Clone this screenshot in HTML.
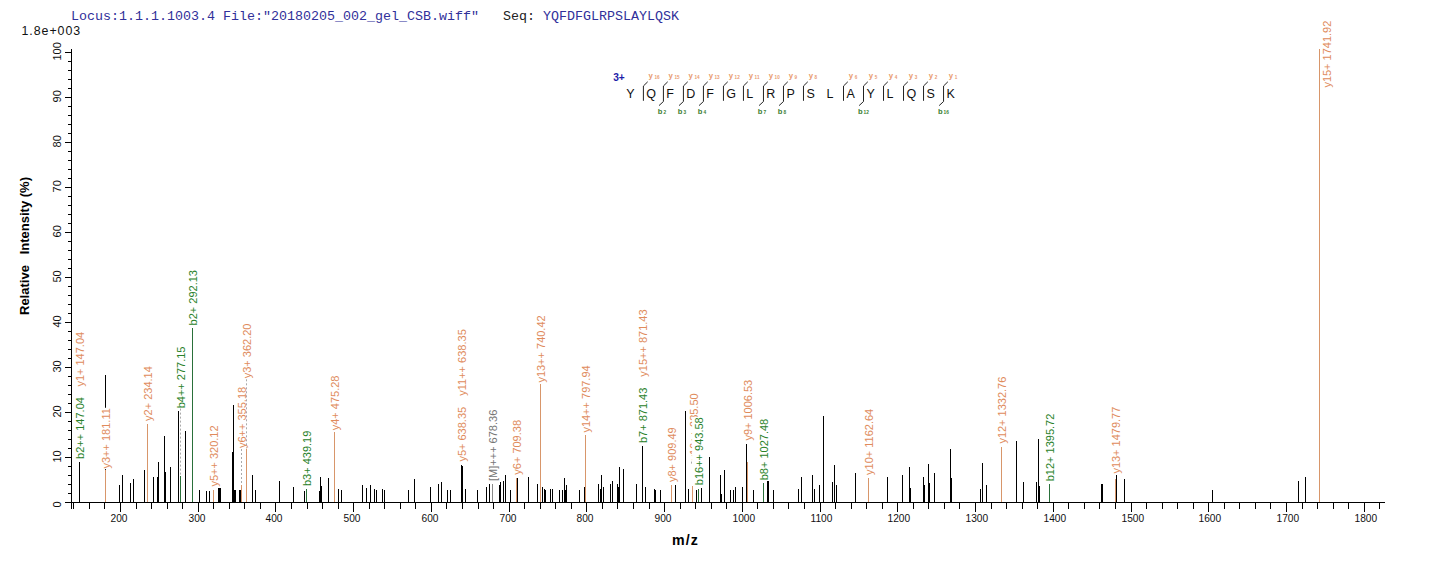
<!DOCTYPE html><html><head><meta charset="utf-8"><style>
html,body{margin:0;padding:0;background:#fff;overflow:hidden;}
svg{display:block;}
text{font-family:"Liberation Sans",sans-serif;}
.mono{font-family:"Liberation Mono",monospace;}
</style></head><body>
<svg width="1436" height="562" viewBox="0 0 1436 562">
<rect x="0" y="0" width="1436" height="562" fill="#fff"/>
<text class="mono" x="71" y="19.7" font-size="13.33" fill="#30309a" xml:space="preserve">Locus:1.1.1.1003.4 File:&quot;20180205_002_gel_CSB.wiff&quot;   <tspan fill="#222">Seq:</tspan> YQFDFGLRPSLAYLQSK</text>
<text x="21.5" y="34.9" font-size="12.4" letter-spacing="0.95" fill="#111">1.8e+003</text>
<g shape-rendering="crispEdges" fill="#000">
<rect x="71" y="49" width="1" height="454"/>
<rect x="65" y="502" width="1320" height="1"/>
<rect x="65" y="502" width="6" height="1"/>
<rect x="68" y="493" width="3" height="1"/>
<rect x="68" y="484" width="3" height="1"/>
<rect x="68" y="475" width="3" height="1"/>
<rect x="68" y="466" width="3" height="1"/>
<rect x="65" y="457" width="6" height="1"/>
<rect x="68" y="448" width="3" height="1"/>
<rect x="68" y="439" width="3" height="1"/>
<rect x="68" y="430" width="3" height="1"/>
<rect x="68" y="421" width="3" height="1"/>
<rect x="65" y="412" width="6" height="1"/>
<rect x="68" y="403" width="3" height="1"/>
<rect x="68" y="394" width="3" height="1"/>
<rect x="68" y="385" width="3" height="1"/>
<rect x="68" y="376" width="3" height="1"/>
<rect x="65" y="367" width="6" height="1"/>
<rect x="68" y="358" width="3" height="1"/>
<rect x="68" y="349" width="3" height="1"/>
<rect x="68" y="340" width="3" height="1"/>
<rect x="68" y="331" width="3" height="1"/>
<rect x="65" y="322" width="6" height="1"/>
<rect x="68" y="313" width="3" height="1"/>
<rect x="68" y="304" width="3" height="1"/>
<rect x="68" y="295" width="3" height="1"/>
<rect x="68" y="286" width="3" height="1"/>
<rect x="65" y="277" width="6" height="1"/>
<rect x="68" y="268" width="3" height="1"/>
<rect x="68" y="259" width="3" height="1"/>
<rect x="68" y="250" width="3" height="1"/>
<rect x="68" y="241" width="3" height="1"/>
<rect x="65" y="232" width="6" height="1"/>
<rect x="68" y="223" width="3" height="1"/>
<rect x="68" y="214" width="3" height="1"/>
<rect x="68" y="205" width="3" height="1"/>
<rect x="68" y="196" width="3" height="1"/>
<rect x="65" y="187" width="6" height="1"/>
<rect x="68" y="178" width="3" height="1"/>
<rect x="68" y="169" width="3" height="1"/>
<rect x="68" y="160" width="3" height="1"/>
<rect x="68" y="151" width="3" height="1"/>
<rect x="65" y="142" width="6" height="1"/>
<rect x="68" y="133" width="3" height="1"/>
<rect x="68" y="124" width="3" height="1"/>
<rect x="68" y="115" width="3" height="1"/>
<rect x="68" y="106" width="3" height="1"/>
<rect x="65" y="97" width="6" height="1"/>
<rect x="68" y="88" width="3" height="1"/>
<rect x="68" y="79" width="3" height="1"/>
<rect x="68" y="70" width="3" height="1"/>
<rect x="68" y="61" width="3" height="1"/>
<rect x="65" y="52" width="6" height="1"/>
<rect x="71" y="503" width="1" height="6"/>
<rect x="73" y="503" width="1" height="6"/>
<rect x="89" y="503" width="1" height="6"/>
<rect x="104" y="503" width="1" height="6"/>
<rect x="120" y="503" width="1" height="9"/>
<rect x="136" y="503" width="1" height="6"/>
<rect x="151" y="503" width="1" height="6"/>
<rect x="167" y="503" width="1" height="6"/>
<rect x="182" y="503" width="1" height="6"/>
<rect x="198" y="503" width="1" height="9"/>
<rect x="213" y="503" width="1" height="6"/>
<rect x="229" y="503" width="1" height="6"/>
<rect x="244" y="503" width="1" height="6"/>
<rect x="260" y="503" width="1" height="6"/>
<rect x="275" y="503" width="1" height="9"/>
<rect x="291" y="503" width="1" height="6"/>
<rect x="307" y="503" width="1" height="6"/>
<rect x="322" y="503" width="1" height="6"/>
<rect x="338" y="503" width="1" height="6"/>
<rect x="353" y="503" width="1" height="9"/>
<rect x="369" y="503" width="1" height="6"/>
<rect x="384" y="503" width="1" height="6"/>
<rect x="400" y="503" width="1" height="6"/>
<rect x="415" y="503" width="1" height="6"/>
<rect x="431" y="503" width="1" height="9"/>
<rect x="446" y="503" width="1" height="6"/>
<rect x="462" y="503" width="1" height="6"/>
<rect x="478" y="503" width="1" height="6"/>
<rect x="493" y="503" width="1" height="6"/>
<rect x="509" y="503" width="1" height="9"/>
<rect x="524" y="503" width="1" height="6"/>
<rect x="540" y="503" width="1" height="6"/>
<rect x="555" y="503" width="1" height="6"/>
<rect x="571" y="503" width="1" height="6"/>
<rect x="586" y="503" width="1" height="9"/>
<rect x="602" y="503" width="1" height="6"/>
<rect x="617" y="503" width="1" height="6"/>
<rect x="633" y="503" width="1" height="6"/>
<rect x="649" y="503" width="1" height="6"/>
<rect x="664" y="503" width="1" height="9"/>
<rect x="680" y="503" width="1" height="6"/>
<rect x="695" y="503" width="1" height="6"/>
<rect x="711" y="503" width="1" height="6"/>
<rect x="726" y="503" width="1" height="6"/>
<rect x="742" y="503" width="1" height="9"/>
<rect x="757" y="503" width="1" height="6"/>
<rect x="773" y="503" width="1" height="6"/>
<rect x="788" y="503" width="1" height="6"/>
<rect x="804" y="503" width="1" height="6"/>
<rect x="820" y="503" width="1" height="9"/>
<rect x="835" y="503" width="1" height="6"/>
<rect x="851" y="503" width="1" height="6"/>
<rect x="866" y="503" width="1" height="6"/>
<rect x="882" y="503" width="1" height="6"/>
<rect x="897" y="503" width="1" height="9"/>
<rect x="913" y="503" width="1" height="6"/>
<rect x="928" y="503" width="1" height="6"/>
<rect x="944" y="503" width="1" height="6"/>
<rect x="959" y="503" width="1" height="6"/>
<rect x="975" y="503" width="1" height="9"/>
<rect x="991" y="503" width="1" height="6"/>
<rect x="1006" y="503" width="1" height="6"/>
<rect x="1022" y="503" width="1" height="6"/>
<rect x="1037" y="503" width="1" height="6"/>
<rect x="1053" y="503" width="1" height="9"/>
<rect x="1068" y="503" width="1" height="6"/>
<rect x="1084" y="503" width="1" height="6"/>
<rect x="1099" y="503" width="1" height="6"/>
<rect x="1115" y="503" width="1" height="6"/>
<rect x="1131" y="503" width="1" height="9"/>
<rect x="1146" y="503" width="1" height="6"/>
<rect x="1162" y="503" width="1" height="6"/>
<rect x="1177" y="503" width="1" height="6"/>
<rect x="1193" y="503" width="1" height="6"/>
<rect x="1208" y="503" width="1" height="9"/>
<rect x="1224" y="503" width="1" height="6"/>
<rect x="1239" y="503" width="1" height="6"/>
<rect x="1255" y="503" width="1" height="6"/>
<rect x="1270" y="503" width="1" height="6"/>
<rect x="1286" y="503" width="1" height="9"/>
<rect x="1302" y="503" width="1" height="6"/>
<rect x="1317" y="503" width="1" height="6"/>
<rect x="1333" y="503" width="1" height="6"/>
<rect x="1348" y="503" width="1" height="6"/>
<rect x="1364" y="503" width="1" height="9"/>
<rect x="1379" y="503" width="1" height="6"/>
</g>
<g font-size="11" fill="#111">
<text transform="translate(61,504.4) rotate(-90)" text-anchor="middle">0</text>
<text transform="translate(61,456.4) rotate(-90)" text-anchor="middle">10</text>
<text transform="translate(61,411.4) rotate(-90)" text-anchor="middle">20</text>
<text transform="translate(61,366.4) rotate(-90)" text-anchor="middle">30</text>
<text transform="translate(61,321.4) rotate(-90)" text-anchor="middle">40</text>
<text transform="translate(61,276.4) rotate(-90)" text-anchor="middle">50</text>
<text transform="translate(61,231.3) rotate(-90)" text-anchor="middle">60</text>
<text transform="translate(61,186.3) rotate(-90)" text-anchor="middle">70</text>
<text transform="translate(61,141.3) rotate(-90)" text-anchor="middle">80</text>
<text transform="translate(61,96.3) rotate(-90)" text-anchor="middle">90</text>
<text transform="translate(61,51.4) rotate(-90)" text-anchor="middle">100</text>
<text x="110.5" y="521.8" font-size="10.2">200</text>
<text x="188.5" y="521.8" font-size="10.2">300</text>
<text x="265.5" y="521.8" font-size="10.2">400</text>
<text x="343.5" y="521.8" font-size="10.2">500</text>
<text x="421.5" y="521.8" font-size="10.2">600</text>
<text x="499.5" y="521.8" font-size="10.2">700</text>
<text x="576.5" y="521.8" font-size="10.2">800</text>
<text x="654.5" y="521.8" font-size="10.2">900</text>
<text x="732.5" y="521.8" font-size="10.2">1000</text>
<text x="810.5" y="521.8" font-size="10.2">1100</text>
<text x="887.5" y="521.8" font-size="10.2">1200</text>
<text x="965.5" y="521.8" font-size="10.2">1300</text>
<text x="1043.5" y="521.8" font-size="10.2">1400</text>
<text x="1121.5" y="521.8" font-size="10.2">1500</text>
<text x="1198.5" y="521.8" font-size="10.2">1600</text>
<text x="1276.5" y="521.8" font-size="10.2">1700</text>
<text x="1354.5" y="521.8" font-size="10.2">1800</text>
</g>
<text transform="translate(28.8,315) rotate(-90)" font-size="13" font-weight="bold" fill="#000" xml:space="preserve">Relative   Intensity (%)</text>
<text x="672" y="544.8" font-size="14.2" letter-spacing="1.1" font-weight="bold" fill="#000">m/z</text>
<g shape-rendering="crispEdges">
<rect x="79" y="462" width="1" height="40" fill="#000"/>
<rect x="105" y="375" width="1" height="127" fill="#000"/>
<rect x="119" y="485" width="1" height="17" fill="#000"/>
<rect x="122" y="475" width="1" height="27" fill="#000"/>
<rect x="130" y="483" width="1" height="19" fill="#000"/>
<rect x="133" y="479" width="1" height="23" fill="#000"/>
<rect x="144" y="470" width="1" height="32" fill="#000"/>
<rect x="153" y="477" width="1" height="25" fill="#000"/>
<rect x="157" y="477" width="1" height="25" fill="#000"/>
<rect x="158" y="462" width="1" height="40" fill="#000"/>
<rect x="164" y="436" width="1" height="66" fill="#000"/>
<rect x="165" y="472" width="1" height="30" fill="#000"/>
<rect x="170" y="467" width="1" height="35" fill="#000"/>
<rect x="178" y="411" width="1" height="91" fill="#000"/>
<rect x="185" y="431" width="1" height="71" fill="#000"/>
<rect x="199" y="490" width="1" height="12" fill="#000"/>
<rect x="206" y="491" width="1" height="11" fill="#000"/>
<rect x="209" y="491" width="1" height="11" fill="#000"/>
<rect x="218" y="488" width="1" height="14" fill="#000"/>
<rect x="219" y="488" width="1" height="14" fill="#000"/>
<rect x="220" y="488" width="1" height="14" fill="#000"/>
<rect x="232" y="452" width="1" height="50" fill="#000"/>
<rect x="233" y="405" width="1" height="97" fill="#000"/>
<rect x="234" y="490" width="1" height="12" fill="#000"/>
<rect x="235" y="490" width="1" height="12" fill="#000"/>
<rect x="239" y="490" width="1" height="12" fill="#000"/>
<rect x="240" y="490" width="1" height="12" fill="#000"/>
<rect x="252" y="475" width="1" height="27" fill="#000"/>
<rect x="255" y="490" width="1" height="12" fill="#000"/>
<rect x="279" y="481" width="1" height="21" fill="#000"/>
<rect x="293" y="487" width="1" height="15" fill="#000"/>
<rect x="304" y="491" width="1" height="11" fill="#000"/>
<rect x="319" y="491" width="1" height="11" fill="#000"/>
<rect x="320" y="477" width="1" height="25" fill="#000"/>
<rect x="321" y="486" width="1" height="16" fill="#000"/>
<rect x="328" y="478" width="1" height="24" fill="#000"/>
<rect x="338" y="489" width="1" height="13" fill="#000"/>
<rect x="341" y="490" width="1" height="12" fill="#000"/>
<rect x="362" y="485" width="1" height="17" fill="#000"/>
<rect x="366" y="488" width="1" height="14" fill="#000"/>
<rect x="370" y="485" width="1" height="17" fill="#000"/>
<rect x="374" y="489" width="1" height="13" fill="#000"/>
<rect x="376" y="490" width="1" height="12" fill="#000"/>
<rect x="382" y="489" width="1" height="13" fill="#000"/>
<rect x="384" y="490" width="1" height="12" fill="#000"/>
<rect x="408" y="490" width="1" height="12" fill="#000"/>
<rect x="414" y="479" width="1" height="23" fill="#000"/>
<rect x="430" y="487" width="1" height="15" fill="#000"/>
<rect x="438" y="484" width="1" height="18" fill="#000"/>
<rect x="441" y="482" width="1" height="20" fill="#000"/>
<rect x="447" y="490" width="1" height="12" fill="#000"/>
<rect x="450" y="490" width="1" height="12" fill="#000"/>
<rect x="461" y="465" width="1" height="37" fill="#000"/>
<rect x="462" y="466" width="1" height="36" fill="#000"/>
<rect x="465" y="489" width="1" height="13" fill="#000"/>
<rect x="477" y="490" width="1" height="12" fill="#000"/>
<rect x="486" y="487" width="1" height="15" fill="#000"/>
<rect x="489" y="484" width="1" height="18" fill="#000"/>
<rect x="499" y="485" width="1" height="17" fill="#000"/>
<rect x="500" y="482" width="1" height="20" fill="#000"/>
<rect x="503" y="481" width="1" height="21" fill="#000"/>
<rect x="505" y="475" width="1" height="27" fill="#000"/>
<rect x="510" y="490" width="1" height="12" fill="#000"/>
<rect x="517" y="478" width="1" height="24" fill="#000"/>
<rect x="528" y="477" width="1" height="25" fill="#000"/>
<rect x="537" y="484" width="1" height="18" fill="#000"/>
<rect x="542" y="487" width="1" height="15" fill="#000"/>
<rect x="544" y="489" width="1" height="13" fill="#000"/>
<rect x="545" y="490" width="1" height="12" fill="#000"/>
<rect x="550" y="489" width="1" height="13" fill="#000"/>
<rect x="552" y="489" width="1" height="13" fill="#000"/>
<rect x="559" y="490" width="1" height="12" fill="#000"/>
<rect x="562" y="490" width="1" height="12" fill="#000"/>
<rect x="564" y="478" width="1" height="24" fill="#000"/>
<rect x="565" y="490" width="1" height="12" fill="#000"/>
<rect x="566" y="485" width="1" height="17" fill="#000"/>
<rect x="579" y="490" width="1" height="12" fill="#000"/>
<rect x="584" y="487" width="1" height="15" fill="#000"/>
<rect x="598" y="484" width="1" height="18" fill="#000"/>
<rect x="600" y="489" width="1" height="13" fill="#000"/>
<rect x="601" y="475" width="1" height="27" fill="#000"/>
<rect x="603" y="487" width="1" height="15" fill="#000"/>
<rect x="610" y="484" width="1" height="18" fill="#000"/>
<rect x="612" y="481" width="1" height="21" fill="#000"/>
<rect x="617" y="484" width="1" height="18" fill="#000"/>
<rect x="618" y="487" width="1" height="15" fill="#000"/>
<rect x="619" y="467" width="1" height="35" fill="#000"/>
<rect x="623" y="469" width="1" height="33" fill="#000"/>
<rect x="636" y="484" width="1" height="18" fill="#000"/>
<rect x="642" y="446" width="1" height="56" fill="#000"/>
<rect x="645" y="487" width="1" height="15" fill="#000"/>
<rect x="654" y="489" width="1" height="13" fill="#000"/>
<rect x="655" y="490" width="1" height="12" fill="#000"/>
<rect x="660" y="490" width="1" height="12" fill="#000"/>
<rect x="675" y="485" width="1" height="17" fill="#000"/>
<rect x="685" y="411" width="1" height="91" fill="#000"/>
<rect x="688" y="489" width="1" height="13" fill="#000"/>
<rect x="696" y="490" width="1" height="12" fill="#000"/>
<rect x="701" y="488" width="1" height="14" fill="#000"/>
<rect x="709" y="457" width="1" height="45" fill="#000"/>
<rect x="720" y="475" width="1" height="27" fill="#000"/>
<rect x="721" y="494" width="1" height="8" fill="#000"/>
<rect x="724" y="470" width="1" height="32" fill="#000"/>
<rect x="730" y="490" width="1" height="12" fill="#000"/>
<rect x="733" y="490" width="1" height="12" fill="#000"/>
<rect x="735" y="487" width="1" height="15" fill="#000"/>
<rect x="742" y="487" width="1" height="15" fill="#000"/>
<rect x="746" y="444" width="1" height="58" fill="#000"/>
<rect x="753" y="490" width="1" height="12" fill="#000"/>
<rect x="767" y="481" width="1" height="21" fill="#000"/>
<rect x="768" y="481" width="1" height="21" fill="#000"/>
<rect x="773" y="490" width="1" height="12" fill="#000"/>
<rect x="798" y="489" width="1" height="13" fill="#000"/>
<rect x="801" y="477" width="1" height="25" fill="#000"/>
<rect x="812" y="475" width="1" height="27" fill="#000"/>
<rect x="814" y="489" width="1" height="13" fill="#000"/>
<rect x="819" y="485" width="1" height="17" fill="#000"/>
<rect x="823" y="416" width="1" height="86" fill="#000"/>
<rect x="832" y="482" width="1" height="20" fill="#000"/>
<rect x="834" y="465" width="1" height="37" fill="#000"/>
<rect x="836" y="485" width="1" height="17" fill="#000"/>
<rect x="855" y="473" width="1" height="29" fill="#000"/>
<rect x="887" y="477" width="1" height="25" fill="#000"/>
<rect x="902" y="475" width="1" height="27" fill="#000"/>
<rect x="909" y="467" width="1" height="35" fill="#000"/>
<rect x="910" y="488" width="1" height="14" fill="#000"/>
<rect x="923" y="477" width="1" height="25" fill="#000"/>
<rect x="924" y="485" width="1" height="17" fill="#000"/>
<rect x="928" y="464" width="1" height="38" fill="#000"/>
<rect x="929" y="483" width="1" height="19" fill="#000"/>
<rect x="934" y="473" width="1" height="29" fill="#000"/>
<rect x="950" y="449" width="1" height="53" fill="#000"/>
<rect x="951" y="478" width="1" height="24" fill="#000"/>
<rect x="980" y="489" width="1" height="13" fill="#000"/>
<rect x="982" y="463" width="1" height="39" fill="#000"/>
<rect x="986" y="485" width="1" height="17" fill="#000"/>
<rect x="1016" y="441" width="1" height="61" fill="#000"/>
<rect x="1023" y="482" width="1" height="20" fill="#000"/>
<rect x="1036" y="482" width="1" height="20" fill="#000"/>
<rect x="1038" y="439" width="1" height="63" fill="#000"/>
<rect x="1039" y="486" width="1" height="16" fill="#000"/>
<rect x="1101" y="484" width="1" height="18" fill="#000"/>
<rect x="1102" y="484" width="1" height="18" fill="#000"/>
<rect x="1116" y="475" width="1" height="27" fill="#000"/>
<rect x="1124" y="479" width="1" height="23" fill="#000"/>
<rect x="1212" y="490" width="1" height="12" fill="#000"/>
<rect x="1298" y="481" width="1" height="21" fill="#000"/>
<rect x="1305" y="477" width="1" height="25" fill="#000"/>
<rect x="105" y="470" width="1" height="32" fill="#d8966a"/>
<rect x="147" y="424" width="1" height="78" fill="#d8966a"/>
<rect x="180" y="476" width="1" height="26" fill="#2a703a"/>
<rect x="192" y="328" width="1" height="174" fill="#2a703a"/>
<rect x="213" y="490" width="1" height="12" fill="#d8966a"/>
<rect x="241" y="485" width="1" height="17" fill="#d8966a"/>
<rect x="246" y="448" width="1" height="54" fill="#d8966a"/>
<rect x="306" y="489" width="1" height="13" fill="#2a703a"/>
<rect x="334" y="432" width="1" height="70" fill="#d8966a"/>
<rect x="492" y="484" width="1" height="18" fill="#8a8a8a"/>
<rect x="516" y="478" width="1" height="24" fill="#d8966a"/>
<rect x="540" y="384" width="1" height="118" fill="#d8966a"/>
<rect x="585" y="435" width="1" height="67" fill="#d8966a"/>
<rect x="671" y="485" width="1" height="17" fill="#d8966a"/>
<rect x="692" y="486" width="1" height="16" fill="#d8966a"/>
<rect x="698" y="489" width="1" height="13" fill="#2a703a"/>
<rect x="747" y="462" width="1" height="40" fill="#d8966a"/>
<rect x="763" y="483" width="1" height="19" fill="#2a703a"/>
<rect x="868" y="478" width="1" height="24" fill="#d8966a"/>
<rect x="1001" y="447" width="1" height="55" fill="#d8966a"/>
<rect x="1049" y="484" width="1" height="18" fill="#2a703a"/>
<rect x="1115" y="479" width="1" height="23" fill="#d8966a"/>
<rect x="1319" y="49" width="1" height="453" fill="#d8966a"/>
</g>
<g font-size="11">
<g transform="translate(84.0,458.90) rotate(-90) scale(1.0000,1)"><rect x="-0.6" y="-11" width="62.78" height="13.5" fill="#fff"/><text x="0" y="0" fill="#2a822a">b2++ 147.04</text></g>
<g transform="translate(84.0,386.62) rotate(-90) scale(1.0000,1)"><rect x="-0.6" y="-11" width="55.74" height="13.5" fill="#fff"/><text x="0" y="0" fill="#e08b5c">y1+ 147.04</text></g>
<g transform="translate(109.8,468.52) rotate(-90) scale(1.0000,1)"><rect x="-0.6" y="-11" width="61.35" height="13.5" fill="#fff"/><text x="0" y="0" fill="#e08b5c">y3++ 181.11</text></g>
<g transform="translate(151.8,420.92) rotate(-90) scale(1.0000,1)"><rect x="-0.6" y="-11" width="55.74" height="13.5" fill="#fff"/><text x="0" y="0" fill="#e08b5c">y2+ 234.14</text></g>
<g transform="translate(185.1,408.30) rotate(-90) scale(1.0000,1)"><rect x="-0.6" y="-11" width="62.78" height="13.5" fill="#fff"/><text x="0" y="0" fill="#2a822a">b4++ 277.15</text></g>
<line x1="180.5" y1="408.6" x2="180.5" y2="476" stroke="#aaa" stroke-width="1" stroke-dasharray="2,2"/>
<g transform="translate(197.1,325.40) rotate(-90) scale(1.0000,1)"><rect x="-0.6" y="-11" width="56.36" height="13.5" fill="#fff"/><text x="0" y="0" fill="#2a822a">b2+ 292.13</text></g>
<g transform="translate(218.1,486.62) rotate(-90) scale(1.0000,1)"><rect x="-0.6" y="-11" width="62.17" height="13.5" fill="#fff"/><text x="0" y="0" fill="#e08b5c">y5++ 320.12</text></g>
<g transform="translate(246.2,448.02) rotate(-90) scale(1.0000,1)"><rect x="-0.6" y="-11" width="62.17" height="13.5" fill="#fff"/><text x="0" y="0" fill="#e08b5c">y6++ 355.18</text></g>
<line x1="241.5" y1="449.0" x2="241.5" y2="485" stroke="#aaa" stroke-width="1" stroke-dasharray="2,2"/>
<g transform="translate(251.1,378.32) rotate(-90) scale(1.0000,1)"><rect x="-0.6" y="-11" width="55.74" height="13.5" fill="#fff"/><text x="0" y="0" fill="#e08b5c">y3+ 362.20</text></g>
<line x1="246.5" y1="379.3" x2="246.5" y2="448" stroke="#aaa" stroke-width="1" stroke-dasharray="2,2"/>
<g transform="translate(311.1,486.00) rotate(-90) scale(1.0000,1)"><rect x="-0.6" y="-11" width="56.36" height="13.5" fill="#fff"/><text x="0" y="0" fill="#2a822a">b3+ 439.19</text></g>
<g transform="translate(339.1,430.32) rotate(-90) scale(1.0000,1)"><rect x="-0.6" y="-11" width="55.74" height="13.5" fill="#fff"/><text x="0" y="0" fill="#e08b5c">y4+ 475.28</text></g>
<g transform="translate(466.2,461.62) rotate(-90) scale(1.0000,1)"><rect x="-0.6" y="-11" width="55.74" height="13.5" fill="#fff"/><text x="0" y="0" fill="#e08b5c">y5+ 638.35</text></g>
<g transform="translate(466.2,395.72) rotate(-90) scale(1.0000,1)"><rect x="-0.6" y="-11" width="67.47" height="13.5" fill="#fff"/><text x="0" y="0" fill="#e08b5c">y11++ 638.35</text></g>
<g transform="translate(497.1,480.98) rotate(-90) scale(1.0000,1)"><rect x="-0.6" y="-11" width="72.25" height="13.5" fill="#fff"/><text x="0" y="0" fill="#767676">[M]+++ 678.36</text></g>
<g transform="translate(521.1,474.72) rotate(-90) scale(1.0000,1)"><rect x="-0.6" y="-11" width="55.74" height="13.5" fill="#fff"/><text x="0" y="0" fill="#e08b5c">y6+ 709.38</text></g>
<g transform="translate(545.1,382.62) rotate(-90) scale(1.0000,1)"><rect x="-0.6" y="-11" width="68.28" height="13.5" fill="#fff"/><text x="0" y="0" fill="#e08b5c">y13++ 740.42</text></g>
<g transform="translate(589.8,432.62) rotate(-90) scale(1.0000,1)"><rect x="-0.6" y="-11" width="68.28" height="13.5" fill="#fff"/><text x="0" y="0" fill="#e08b5c">y14++ 797.94</text></g>
<g transform="translate(647.1,443.00) rotate(-90) scale(1.0000,1)"><rect x="-0.6" y="-11" width="56.36" height="13.5" fill="#fff"/><text x="0" y="0" fill="#2a822a">b7+ 871.43</text></g>
<g transform="translate(647.3,376.72) rotate(-90) scale(1.0000,1)"><rect x="-0.6" y="-11" width="68.28" height="13.5" fill="#fff"/><text x="0" y="0" fill="#e08b5c">y15++ 871.43</text></g>
<g transform="translate(676.3,482.02) rotate(-90) scale(1.0000,1)"><rect x="-0.6" y="-11" width="55.74" height="13.5" fill="#fff"/><text x="0" y="0" fill="#e08b5c">y8+ 909.49</text></g>
<g transform="translate(697.7,460.62) rotate(-90) scale(1.0000,1)"><rect x="-0.6" y="-11" width="68.28" height="13.5" fill="#fff"/><text x="0" y="0" fill="#e08b5c">y16++ 935.50</text></g>
<line x1="691.5" y1="461.6" x2="691.5" y2="464" stroke="#aaa" stroke-width="1" stroke-dasharray="2,2"/>
<g transform="translate(703.1,485.20) rotate(-90) scale(1.0000,1)"><rect x="-0.6" y="-11" width="68.90" height="13.5" fill="#fff"/><text x="0" y="0" fill="#2a822a">b16++ 943.58</text></g>
<g transform="translate(751.9,440.62) rotate(-90) scale(1.0000,1)"><rect x="-0.6" y="-11" width="61.86" height="13.5" fill="#fff"/><text x="0" y="0" fill="#e08b5c">y9+ 1006.53</text></g>
<g transform="translate(768.2,480.30) rotate(-90) scale(1.0000,1)"><rect x="-0.6" y="-11" width="62.48" height="13.5" fill="#fff"/><text x="0" y="0" fill="#2a822a">b8+ 1027.48</text></g>
<g transform="translate(873.1,474.92) rotate(-90) scale(1.0000,1)"><rect x="-0.6" y="-11" width="67.16" height="13.5" fill="#fff"/><text x="0" y="0" fill="#e08b5c">y10+ 1162.64</text></g>
<g transform="translate(1006.2,443.62) rotate(-90) scale(1.0000,1)"><rect x="-0.6" y="-11" width="67.98" height="13.5" fill="#fff"/><text x="0" y="0" fill="#e08b5c">y12+ 1332.76</text></g>
<g transform="translate(1054.2,481.30) rotate(-90) scale(1.0000,1)"><rect x="-0.6" y="-11" width="68.59" height="13.5" fill="#fff"/><text x="0" y="0" fill="#2a822a">b12+ 1395.72</text></g>
<g transform="translate(1119.8,473.62) rotate(-90) scale(1.0000,1)"><rect x="-0.6" y="-11" width="67.98" height="13.5" fill="#fff"/><text x="0" y="0" fill="#e08b5c">y13+ 1479.77</text></g>
<g transform="translate(1331.0,87.62) rotate(-90) scale(1.0000,1)"><rect x="-0.6" y="-11" width="67.98" height="13.5" fill="#fff"/><text x="0" y="0" fill="#e08b5c">y15+ 1741.92</text></g>
</g>
<g>
<text x="613.2" y="81.2" font-size="10.2" font-weight="bold" fill="#1c1ca8">3+</text>
<text x="626.30" y="97.8" font-size="12.5" fill="#111">Y</text>
<text x="646.31" y="97.8" font-size="12.5" fill="#111">Q</text>
<text x="666.32" y="97.8" font-size="12.5" fill="#111">F</text>
<text x="686.33" y="97.8" font-size="12.5" fill="#111">D</text>
<text x="706.34" y="97.8" font-size="12.5" fill="#111">F</text>
<text x="726.35" y="97.8" font-size="12.5" fill="#111">G</text>
<text x="746.36" y="97.8" font-size="12.5" fill="#111">L</text>
<text x="766.37" y="97.8" font-size="12.5" fill="#111">R</text>
<text x="786.38" y="97.8" font-size="12.5" fill="#111">P</text>
<text x="806.39" y="97.8" font-size="12.5" fill="#111">S</text>
<text x="826.40" y="97.8" font-size="12.5" fill="#111">L</text>
<text x="846.41" y="97.8" font-size="12.5" fill="#111">A</text>
<text x="866.42" y="97.8" font-size="12.5" fill="#111">Y</text>
<text x="886.43" y="97.8" font-size="12.5" fill="#111">L</text>
<text x="906.44" y="97.8" font-size="12.5" fill="#111">Q</text>
<text x="926.45" y="97.8" font-size="12.5" fill="#111">S</text>
<text x="946.46" y="97.8" font-size="12.5" fill="#111">K</text>
<path d="M647.70,81.8 L643.40,86 L643.40,100.8" fill="none" stroke="#222" stroke-width="1"/>
<text x="648.60" y="77.8" font-size="7.8" font-weight="bold" fill="#e89a70">y<tspan font-size="4.6" dx="1.6" dy="1.0">16</tspan></text>
<path d="M667.71,81.8 L663.41,86 L663.41,101.5 L659.01,105.6" fill="none" stroke="#222" stroke-width="1"/>
<text x="668.61" y="77.8" font-size="7.8" font-weight="bold" fill="#e89a70">y<tspan font-size="4.6" dx="1.6" dy="1.0">15</tspan></text>
<text x="657.81" y="113.8" font-size="7.6" font-weight="bold" fill="#3a8030">b<tspan font-size="4.8" dx="1" dy="0">2</tspan></text>
<path d="M687.72,81.8 L683.42,86 L683.42,101.5 L679.02,105.6" fill="none" stroke="#222" stroke-width="1"/>
<text x="688.62" y="77.8" font-size="7.8" font-weight="bold" fill="#e89a70">y<tspan font-size="4.6" dx="1.6" dy="1.0">14</tspan></text>
<text x="677.82" y="113.8" font-size="7.6" font-weight="bold" fill="#3a8030">b<tspan font-size="4.8" dx="1" dy="0">3</tspan></text>
<path d="M707.73,81.8 L703.43,86 L703.43,101.5 L699.03,105.6" fill="none" stroke="#222" stroke-width="1"/>
<text x="708.63" y="77.8" font-size="7.8" font-weight="bold" fill="#e89a70">y<tspan font-size="4.6" dx="1.6" dy="1.0">13</tspan></text>
<text x="697.83" y="113.8" font-size="7.6" font-weight="bold" fill="#3a8030">b<tspan font-size="4.8" dx="1" dy="0">4</tspan></text>
<path d="M727.74,81.8 L723.44,86 L723.44,100.8" fill="none" stroke="#222" stroke-width="1"/>
<text x="728.64" y="77.8" font-size="7.8" font-weight="bold" fill="#e89a70">y<tspan font-size="4.6" dx="1.6" dy="1.0">12</tspan></text>
<path d="M747.75,81.8 L743.45,86 L743.45,100.8" fill="none" stroke="#222" stroke-width="1"/>
<text x="748.65" y="77.8" font-size="7.8" font-weight="bold" fill="#e89a70">y<tspan font-size="4.6" dx="1.6" dy="1.0">11</tspan></text>
<path d="M767.76,81.8 L763.46,86 L763.46,101.5 L759.06,105.6" fill="none" stroke="#222" stroke-width="1"/>
<text x="768.66" y="77.8" font-size="7.8" font-weight="bold" fill="#e89a70">y<tspan font-size="4.6" dx="1.6" dy="1.0">10</tspan></text>
<text x="757.86" y="113.8" font-size="7.6" font-weight="bold" fill="#3a8030">b<tspan font-size="4.8" dx="1" dy="0">7</tspan></text>
<path d="M787.77,81.8 L783.47,86 L783.47,101.5 L779.07,105.6" fill="none" stroke="#222" stroke-width="1"/>
<text x="788.67" y="77.8" font-size="7.8" font-weight="bold" fill="#e89a70">y<tspan font-size="4.6" dx="1.6" dy="1.0">9</tspan></text>
<text x="777.87" y="113.8" font-size="7.6" font-weight="bold" fill="#3a8030">b<tspan font-size="4.8" dx="1" dy="0">8</tspan></text>
<path d="M807.78,81.8 L803.48,86 L803.48,100.8" fill="none" stroke="#222" stroke-width="1"/>
<text x="808.68" y="77.8" font-size="7.8" font-weight="bold" fill="#e89a70">y<tspan font-size="4.6" dx="1.6" dy="1.0">8</tspan></text>
<path d="M847.80,81.8 L843.50,86 L843.50,100.8" fill="none" stroke="#222" stroke-width="1"/>
<text x="848.70" y="77.8" font-size="7.8" font-weight="bold" fill="#e89a70">y<tspan font-size="4.6" dx="1.6" dy="1.0">6</tspan></text>
<path d="M867.81,81.8 L863.51,86 L863.51,101.5 L859.11,105.6" fill="none" stroke="#222" stroke-width="1"/>
<text x="868.71" y="77.8" font-size="7.8" font-weight="bold" fill="#e89a70">y<tspan font-size="4.6" dx="1.6" dy="1.0">5</tspan></text>
<text x="857.91" y="113.8" font-size="7.6" font-weight="bold" fill="#3a8030">b<tspan font-size="4.8" dx="1" dy="0">12</tspan></text>
<path d="M887.82,81.8 L883.52,86 L883.52,100.8" fill="none" stroke="#222" stroke-width="1"/>
<text x="888.72" y="77.8" font-size="7.8" font-weight="bold" fill="#e89a70">y<tspan font-size="4.6" dx="1.6" dy="1.0">4</tspan></text>
<path d="M907.83,81.8 L903.53,86 L903.53,100.8" fill="none" stroke="#222" stroke-width="1"/>
<text x="908.73" y="77.8" font-size="7.8" font-weight="bold" fill="#e89a70">y<tspan font-size="4.6" dx="1.6" dy="1.0">3</tspan></text>
<path d="M927.84,81.8 L923.54,86 L923.54,100.8" fill="none" stroke="#222" stroke-width="1"/>
<text x="928.74" y="77.8" font-size="7.8" font-weight="bold" fill="#e89a70">y<tspan font-size="4.6" dx="1.6" dy="1.0">2</tspan></text>
<path d="M947.85,81.8 L943.55,86 L943.55,101.5 L939.15,105.6" fill="none" stroke="#222" stroke-width="1"/>
<text x="948.75" y="77.8" font-size="7.8" font-weight="bold" fill="#e89a70">y<tspan font-size="4.6" dx="1.6" dy="1.0">1</tspan></text>
<text x="937.95" y="113.8" font-size="7.6" font-weight="bold" fill="#3a8030">b<tspan font-size="4.8" dx="1" dy="0">16</tspan></text>
</g>
</svg></body></html>
